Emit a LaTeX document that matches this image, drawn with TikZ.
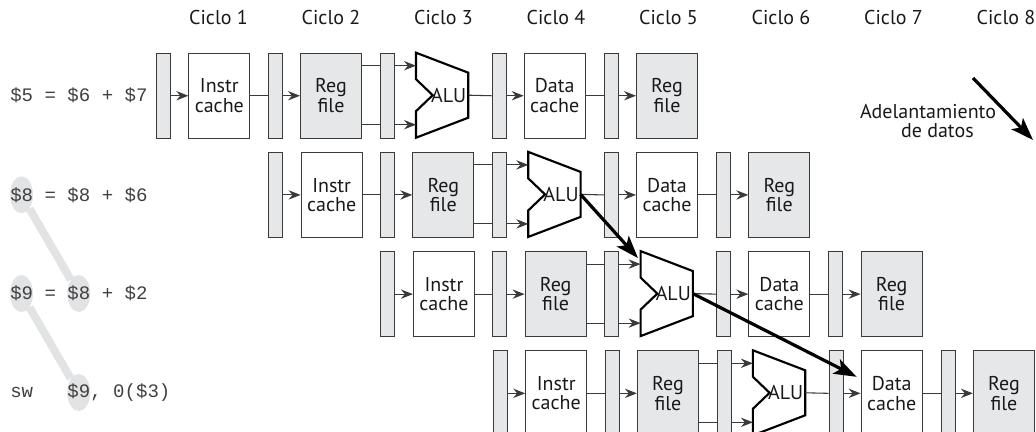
\documentclass[tikz,border=0pt]{standalone}
\usepackage{fontspec}
\setmainfont{PT Sans}
\newfontfamily\codefont{Liberation Mono}
\usetikzlibrary{arrows.meta,calc,shapes.geometric}
\definecolor{regfill}{HTML}{E6E7E8}
\definecolor{linec}{HTML}{3A3A3A}
\definecolor{hl}{HTML}{E2E3E5}
\begin{document}
\begin{tikzpicture}[x=0.75pt,y=-0.75pt,
  txt/.style={font=\fontsize{15}{14.6}\selectfont, text=black!90},
  stagebar/.style={draw=linec, line width=0.8pt, fill=regfill, minimum width=10.5pt, minimum height=63.75pt, inner sep=0pt, anchor=north west},
  unit/.style={draw=linec, line width=0.8pt, minimum width=45.75pt, minimum height=63.75pt, inner sep=0pt, anchor=north west, align=center, txt},
  regunit/.style={unit, fill=regfill},
  wire/.style={draw=linec, line width=0.8pt},
  warrow/.style={wire, -{Stealth[length=9pt,width=7pt,inset=3pt]}},
  aluline/.style={draw=black, line width=1.6pt, line join=miter},
  fwd/.style={draw=black, line width=2.4pt, -{Stealth[length=17pt,width=12pt,inset=4pt]}},
  code/.style={font=\codefont\fontsize{14.3}{16}\selectfont, inner sep=0pt, anchor=west, text=black!75},
  hlell/.style={ellipse, fill=hl, minimum width=17.25pt, minimum height=27.75pt, inner sep=0pt},
  hlline/.style={draw=hl, line width=6pt},
  cyc/.style={txt}
]
\useasboundingbox (0,0) rectangle (1036,432);

% highlight ellipses and links (behind code)
\node[hlell] (e1) at (21.5,194.8) {};
\node[hlell] (e2) at (78.8,293.5) {};
\node[hlell] (e3) at (21.5,293.5) {};
\node[hlell] (e4) at (78.8,392.5) {};
\draw[hlline] (e1) -- (e2);
\draw[hlline] (e3) -- (e4);

% code
\node[code] (c0) at (10,95.2) {\$5 = \$6 + \$7};
\node[code] (c1) at (10,194.8) {\$8 = \$8 + \$6};
\node[code] (c2) at (10,293.5) {\$9 = \$8 + \$2};
\node[code] (c3) at (10,392.5) {sw\ \ \ \$9, 0(\$3)};

% cycle labels
\foreach \i in {1,...,8} {
  \node[cyc] (cy\i) at ({218.5+112.5*(\i-1)},18) {Ciclo \i};
}

% pipeline rows
\foreach \r in {0,1,2,3} {
  \pgfmathsetmacro\xo{155.7+112.3*\r}
  \pgfmathsetmacro\yo{52.7+99.2*\r}
  \node[stagebar] (bA\r) at (\xo,\yo) {};
  \node[unit] (im\r) at (\xo+32.6,\yo) {Instr\\cache};
  \node[stagebar] (bB\r) at (\xo+112,\yo) {};
  \node[regunit] (rf\r) at (\xo+144.3,\yo) {Reg\\file};
  \node[stagebar] (bC\r) at (\xo+224,\yo) {};
  \coordinate (alu\r) at (\xo+260.3,\yo);
  \draw[aluline] (alu\r) -- ++(52.3,20) -- ++(0,45) -- ++(-52.3,20) -- ++(0,-26.5) -- ++(16.7,-16) -- ++(-16.7,-16) -- cycle;
  \node[txt, inner sep=0pt] (alut\r) at (\xo+293,\yo+42.5) {ALU};
  \coordinate (aluo\r) at (\xo+312.6,\yo+42.5);
  \coordinate (alua\r) at (\xo+260.3,\yo+13);
  \coordinate (alub\r) at (\xo+260.3,\yo+72);
  \node[stagebar] (bD\r) at (\xo+336,\yo) {};
  \node[unit] (dm\r) at (\xo+368,\yo) {Data\\cache};
  \node[stagebar] (bE\r) at (\xo+448,\yo) {};
  \node[regunit] (wb\r) at (\xo+480.3,\yo) {Reg\\file};
  % wires
  \draw[warrow] (bA\r.east) -- (im\r.west);
  \draw[wire] (im\r.east) -- (bB\r.west);
  \draw[warrow] (bB\r.east) -- (rf\r.west);
  \draw[wire] (rf\r.east |- alua\r) -- (bC\r.west |- alua\r);
  \draw[wire] (rf\r.east |- alub\r) -- (bC\r.west |- alub\r);
  \draw[warrow] (bC\r.east |- alua\r) -- (alua\r);
  \draw[warrow] (bC\r.east |- alub\r) -- (alub\r);
  \draw[wire] (aluo\r) -- (bD\r.west);
  \draw[warrow] (bD\r.east) -- (dm\r.west);
  \draw[wire] (dm\r.east) -- (bE\r.west);
  \draw[warrow] (bE\r.east) -- (wb\r.west);
}

% forwarding arrows
\coordinate (f1) at ($(alu2)+(-2.6,7)$);
\coordinate (f2) at ($(dm3.north west)+(-4,26.5)$);
\draw[fwd] (aluo1) -- (f1);
\draw[fwd] (aluo2) -- (f2);

% legend
\coordinate (lgs) at (973,78);
\coordinate (lge) at (1033,140);
\draw[fwd] (lgs) -- (lge);
\node[txt, align=center, inner sep=0pt] (lgt) at (928,121) {Adelantamiento\\\hspace*{14pt}de datos};
\end{tikzpicture}
\end{document}
